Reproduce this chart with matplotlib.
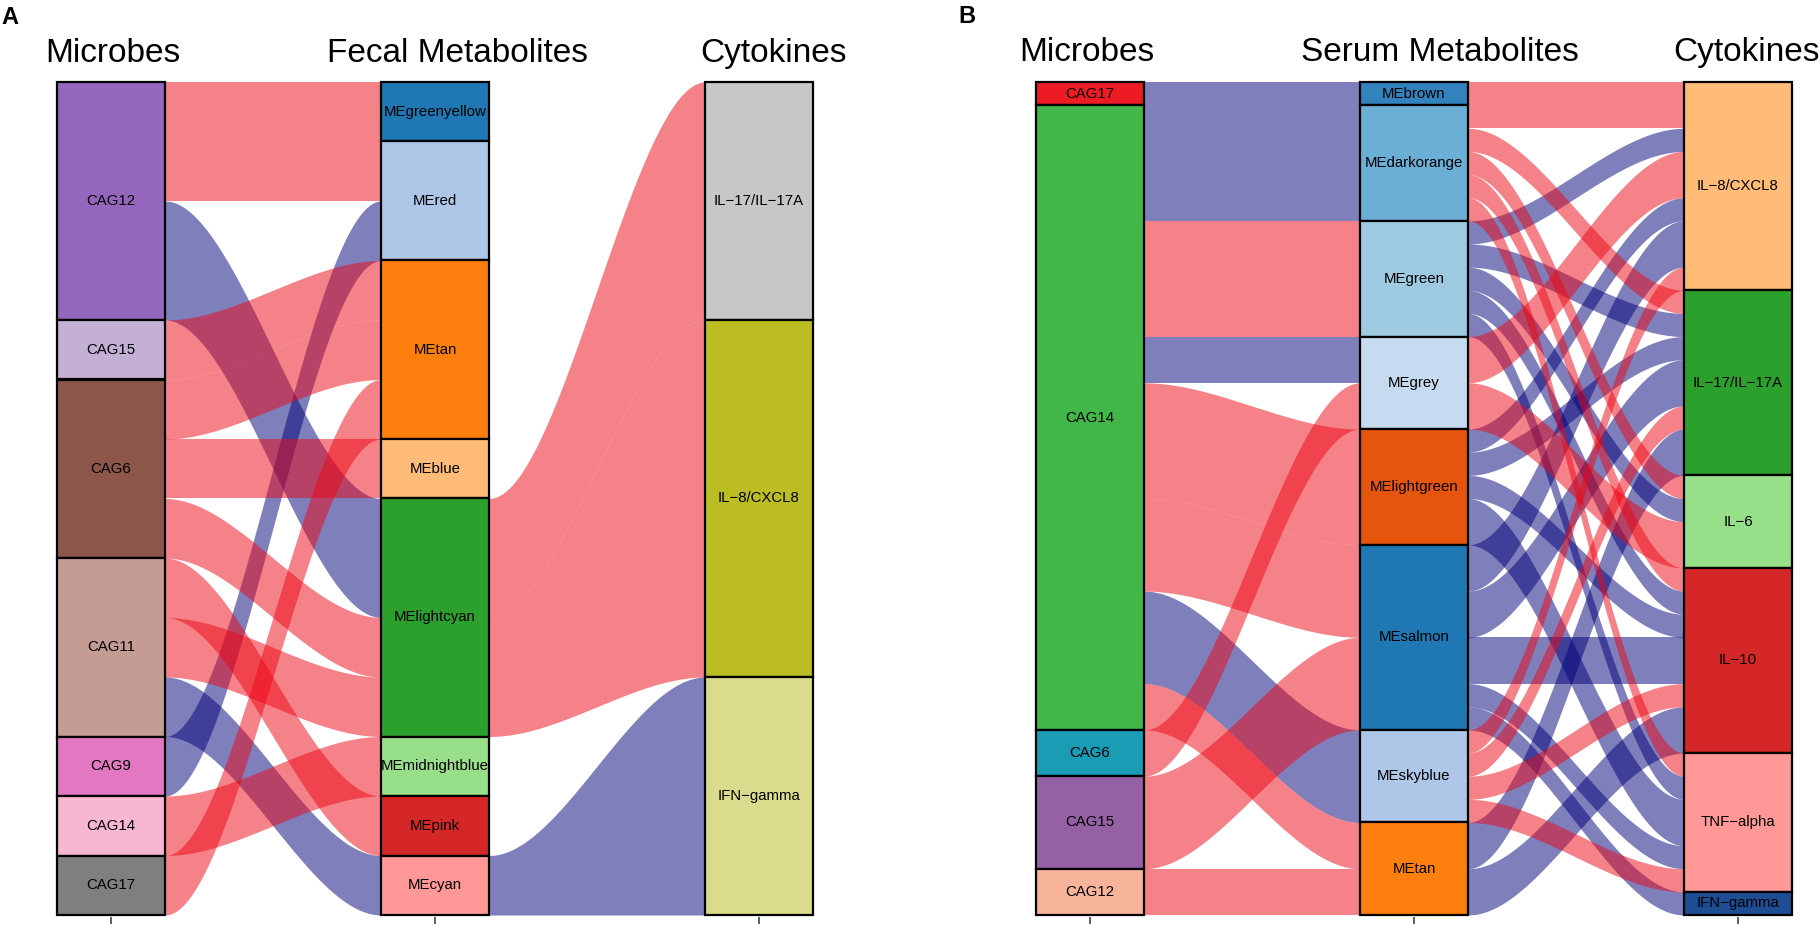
import numpy as np
import matplotlib
matplotlib.use('Agg')
from matplotlib import pyplot as plt
from matplotlib.patches import Rectangle

plt.rcParams['font.family'] = ['Liberation Sans', 'DejaVu Sans']

W, H = 1820, 932
POS_COL = '#EE0614'
NEG_COL = '#00007A'

# ---------------- panel A data ----------------
a_microbes = ['CAG12', 'CAG15', 'CAG6', 'CAG11', 'CAG9', 'CAG14', 'CAG17']
a_microbes_n = [4, 1, 3, 3, 1, 1, 1]
a_microbes_col = ['#9467BD', '#C5B0D5', '#8C564B', '#C49C94', '#E377C2', '#F7B6D2', '#7F7F7F']

a_fecal = ['MEgreenyellow', 'MEred', 'MEtan', 'MEblue', 'MElightcyan', 'MEmidnightblue', 'MEpink', 'MEcyan']
a_fecal_n = [1, 2, 3, 1, 4, 1, 1, 1]
a_fecal_col = ['#1F77B4', '#AEC7E8', '#FF7F0E', '#FFBB78', '#2CA02C', '#98DF8A', '#D62728', '#FF9896']

a_cyto = ['IL\u221217/IL\u221217A', 'IL\u22128/CXCL8', 'IFN\u2212gamma']
a_cyto_n = [4, 6, 4]
a_cyto_col = ['#C7C7C7', '#BCBD22', '#DBDB8D']

a_f1_from = ['CAG12', 'CAG12', 'CAG12', 'CAG15', 'CAG6', 'CAG6', 'CAG6',
             'CAG11', 'CAG11', 'CAG11', 'CAG9', 'CAG14', 'CAG17']
a_f1_to = ['MEgreenyellow', 'MEred', 'MElightcyan', 'MEtan', 'MEtan', 'MEblue', 'MElightcyan',
           'MEpink', 'MElightcyan', 'MEcyan', 'MEred', 'MEmidnightblue', 'MEtan']
a_f1_sign = ['+', '+', '-', '+', '+', '+', '+', '+', '+', '-', '-', '+', '+']
a_f1_n = [1, 1, 2, 1, 1, 1, 1, 1, 1, 1, 1, 1, 1]

a_f2_from = ['MElightcyan', 'MElightcyan', 'MEcyan']
a_f2_to = ['IL\u221217/IL\u221217A', 'IL\u22128/CXCL8', 'IFN\u2212gamma']
a_f2_sign = ['+', '+', '-']
a_f2_n_left = [2, 2, 1]
a_f2_n_right = [4, 6, 4]

# ---------------- panel B data ----------------
b_microbes = ['CAG17', 'CAG14', 'CAG6', 'CAG15', 'CAG12']
b_microbes_n = [1, 27, 2, 4, 2]
b_microbes_col = ['#ED1C24', '#41B649', '#1A9CB5', '#9660A5', '#F8B49A']

b_serum = ['MEbrown', 'MEdarkorange', 'MEgreen', 'MEgrey', 'MElightgreen', 'MEsalmon', 'MEskyblue', 'MEtan']
b_serum_n = [1, 5, 5, 4, 5, 8, 4, 4]
b_serum_col = ['#3182BD', '#6BAED6', '#9ECAE1', '#C6DBEF', '#E6550D', '#1F77B4', '#AEC7E8', '#FF7F0E']

b_cyto = ['IL\u22128/CXCL8', 'IL\u221217/IL\u221217A', 'IL\u22126', 'IL\u221210', 'TNF\u2212alpha', 'IFN\u2212gamma']
b_cyto_n = [9, 8, 4, 8, 6, 1]
b_cyto_col = ['#FFBB78', '#2CA02C', '#98DF8A', '#D62728', '#FF9896', '#1D4E94']

b_f1_from = ['CAG17', 'CAG14', 'CAG14', 'CAG14', 'CAG14', 'CAG14', 'CAG14', 'CAG14', 'CAG6', 'CAG15', 'CAG12']
b_f1_to = ['MEbrown', 'MEdarkorange', 'MEgreen', 'MEgrey', 'MElightgreen', 'MEsalmon', 'MEskyblue',
           'MEtan', 'MEgrey', 'MEsalmon', 'MEtan']
b_f1_sign = ['-', '-', '+', '-', '+', '+', '-', '+', '+', '+', '+']
b_f1_n = [1, 5, 5, 2, 5, 4, 4, 2, 2, 4, 2]

IL8, IL17, IL6, IL10, TNF, IFN = b_cyto
b_f2_from = (['MEbrown'] + ['MEdarkorange'] * 5 + ['MEgreen'] * 5 + ['MEgrey'] * 2
             + ['MElightgreen'] * 4 + ['MEsalmon'] * 5 + ['MEskyblue'] * 4 + ['MEtan'] * 2)
b_f2_to = [IL8,
           IL8, IL17, IL6, IL10, TNF,
           IL8, IL17, IL6, IL10, TNF,
           IL8, IL6,
           IL8, IL17, IL10, TNF,
           IL8, IL17, IL10, TNF, IFN,
           IL8, IL17, IL10, TNF,
           IL17, IL10]
b_f2_sign = (['+'] + ['+'] * 5 + ['-'] * 5 + ['+'] * 2 + ['-'] * 4 + ['-'] * 5 + ['+'] * 4 + ['-'] * 2)
b_f2_n = [1,
          1, 1, 1, 1, 1,
          1, 1, 1, 1, 1,
          2, 2,
          1, 1, 1, 2,
          2, 2, 2, 1, 1,
          1, 1, 1, 1,
          2, 2]

BW = 1 / 3


def tops(counts):
    return np.concatenate([[0], np.cumsum(counts)[:-1]])


def draw_flows(ax, xa, src, dst, sign, nl, nr, s_names, s_n, d_names, d_n):
    s_top = dict(zip(s_names, tops(s_n)))
    d_top = dict(zip(d_names, tops(d_n)))
    left = []
    for i in range(len(src)):
        left.append(s_top[src[i]])
        s_top[src[i]] += nl[i]
    right = [0] * len(src)
    order = sorted(range(len(src)), key=lambda i: (d_names.index(dst[i]), s_names.index(src[i]), i))
    for i in order:
        right[i] = d_top[dst[i]]
        d_top[dst[i]] += nr[i]
    x0, x1 = xa + BW / 2, xa + 1 - BW / 2
    xs = np.linspace(x0, x1, 120)
    t = (xs - x0) / (x1 - x0)
    s = t * t * (3 - 2 * t)
    # negative (blue) flows underneath, positive (red) on top
    for want in ['-', '+']:
        for i in range(len(src)):
            if sign[i] != want:
                continue
            y_top = left[i] + (right[i] - left[i]) * s
            y_bot = left[i] + nl[i] + (right[i] + nr[i] - left[i] - nl[i]) * s
            col = POS_COL if sign[i] == '+' else NEG_COL
            ax.fill_between(xs, y_top, y_bot, color=col, alpha=0.5, lw=0,
                            zorder=2 if want == '+' else 1)


def draw_strata(ax, x, names, counts, cols):
    for nm, y, n, c in zip(names, tops(counts), counts, cols):
        ax.add_patch(Rectangle((x - BW / 2, y), BW, n, facecolor=c, edgecolor='black', lw=1.6, zorder=3))
        ax.text(x, y + n / 2, nm, ha='center', va='center', fontsize=10.8, zorder=4)


def setup(ax, total, px_per_unit):
    ax.set_xlim(0.82, 3.18)
    ax.set_ylim(total + 2 / px_per_unit, -4 / px_per_unit)
    for sp in ax.spines.values():
        sp.set_visible(False)
    ax.set_xticks([1, 2, 3])
    ax.set_xticklabels([])
    ax.set_yticks([])
    ax.tick_params(axis='x', length=5, width=1.1, color='#333333')


fig = plt.figure(figsize=(W / 100, H / 100), dpi=100)

# panel A
axA = fig.add_axes([52.6 / W, 1 - 917 / H, 764.7 / W, (917 - 78) / H])
setup(axA, 14, 833 / 14)
draw_flows(axA, 1, a_f1_from, a_f1_to, a_f1_sign, a_f1_n, a_f1_n,
           a_microbes, a_microbes_n, a_fecal, a_fecal_n)
draw_flows(axA, 2, a_f2_from, a_f2_to, a_f2_sign, a_f2_n_left, a_f2_n_right,
           a_fecal, a_fecal_n, a_cyto, a_cyto_n)
draw_strata(axA, 1, a_microbes, a_microbes_n, a_microbes_col)
draw_strata(axA, 2, a_fecal, a_fecal_n, a_fecal_col)
draw_strata(axA, 3, a_cyto, a_cyto_n, a_cyto_col)

# panel B
axB = fig.add_axes([1031.6 / W, 1 - 917 / H, 764.7 / W, (917 - 78) / H])
setup(axB, 36, 832 / 36)
draw_flows(axB, 1, b_f1_from, b_f1_to, b_f1_sign, b_f1_n, b_f1_n,
           b_microbes, b_microbes_n, b_serum, b_serum_n)
draw_flows(axB, 2, b_f2_from, b_f2_to, b_f2_sign, b_f2_n, b_f2_n,
           b_serum, b_serum_n, b_cyto, b_cyto_n)
draw_strata(axB, 1, b_microbes, b_microbes_n, b_microbes_col)
draw_strata(axB, 2, b_serum, b_serum_n, b_serum_col)
draw_strata(axB, 3, b_cyto, b_cyto_n, b_cyto_col)

# titles
for txt, x, yb in [('Microbes', 45, 62), ('Fecal Metabolites', 327, 62), ('Cytokines', 700, 62),
                   ('Microbes', 1019, 61), ('Serum Metabolites', 1301, 61), ('Cytokines', 1673, 61)]:
    fig.text(x / W, 1 - yb / H, txt, ha='left', va='baseline', fontsize=24)
fig.text(1 / W, 1 - 24 / H, 'A', ha='left', va='baseline', fontsize=17, fontweight='bold')
fig.text(958 / W, 1 - 23 / H, 'B', ha='left', va='baseline', fontsize=17, fontweight='bold')

fig.savefig('out.png', dpi=100)
